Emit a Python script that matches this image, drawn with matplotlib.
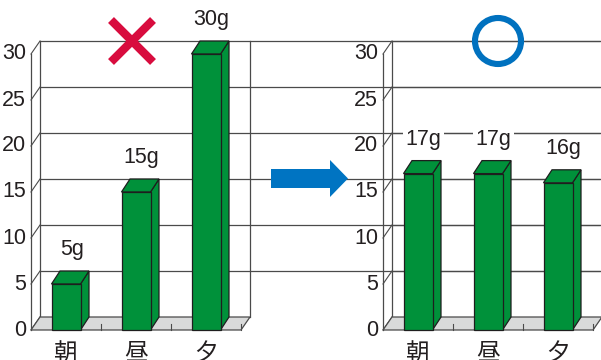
import matplotlib
matplotlib.use("Agg")
import matplotlib.pyplot as plt
from matplotlib.patches import Polygon, Circle

# ---- data ----
categories = ["朝", "昼", "夕"]
before_values = [5, 15, 30]
after_values = [17, 17, 16]
before_labels = ["5g", "15g", "30g"]
after_labels = ["17g", "17g", "16g"]
y_ticks = [0, 5, 10, 15, 20, 25, 30]

W, H = 601, 360
fig = plt.figure(figsize=(W / 100, H / 100), dpi=100)

NUM_FONT = ["Liberation Sans Narrow", "Liberation Sans", "DejaVu Sans"]
CJK_FONT = ["Noto Sans CJK JP", "DejaVu Sans"]
GREEN = "#00913a"
EDGE = "#1e1e1e"
GRID = "#4a4a4a"
FLOOR = "#d9dada"
TXT = "#231f20"

PX_X = 70.0   # pixels per category unit
PX_Y = 9.2    # pixels per value unit
DDX, DDY = 9 / PX_X, 13 / PX_Y      # wall depth
BDX, BDY = 8.5 / PX_X, 13 / PX_Y    # bar depth
BW = 29 / PX_X


def draw_chart(left_px, values, labels):
    ax = fig.add_axes([left_px / W, 30 / H, 210 / W, 276 / H])
    ax.set_xlim(-0.5, 2.5)
    ax.set_ylim(0, 30)
    ax.axis("off")
    x0, x1 = -0.5, 2.5
    # back wall gridlines and left wall diagonals
    for v in y_ticks:
        if v > 0:
            ax.plot([x0 + DDX, x1 + DDX + 5], [v + DDY, v + DDY], color=GRID, lw=0.9,
                    clip_on=False, zorder=1, solid_capstyle="butt")
        ax.plot([x0, x0 + DDX], [v, v + DDY], color=GRID, lw=0.8, clip_on=False, zorder=1)
        ax.annotate(str(v), xy=(x0, v), xytext=(-3.5, 0), textcoords="offset points",
                    ha="right", va="center", fontsize=15.5, family=NUM_FONT,
                    color=TXT, annotation_clip=False)
    # vertical edges
    ax.plot([x0, x0], [0, 30], color=GRID, lw=0.9, clip_on=False, zorder=1)
    ax.plot([x0 + DDX, x0 + DDX], [DDY, 30 + DDY], color=GRID, lw=0.9, clip_on=False, zorder=1)
    ax.plot([x1 + DDX, x1 + DDX], [DDY, 30 + DDY], color=GRID, lw=0.9, clip_on=False, zorder=1)
    # floor
    floor = Polygon([(x0, 0), (x1, 0), (x1 + DDX, DDY), (x0 + DDX, DDY)], closed=True,
                    facecolor=FLOOR, edgecolor=GRID, lw=0.9, clip_on=False, zorder=2)
    ax.add_patch(floor)
    for xt in [0.5, 1.5, 2.5]:
        ax.plot([xt, xt], [0, DDY * 0.5], color=GRID, lw=0.8, clip_on=False, zorder=2)
    # bars
    xs = list(range(len(values)))
    ax.bar(xs, values, width=BW, color=GREEN, edgecolor=EDGE, lw=0.9, zorder=4,
           clip_on=False)
    for x, v in zip(xs, values):
        r = x + BW / 2
        l = x - BW / 2
        side = Polygon([(r, 0), (r + BDX, BDY), (r + BDX, v + BDY), (r, v)], closed=True,
                       facecolor=GREEN, edgecolor=EDGE, lw=0.9, zorder=3, clip_on=False)
        top = Polygon([(l, v), (r, v), (r + BDX, v + BDY), (l + BDX, v + BDY)], closed=True,
                      facecolor=GREEN, edgecolor=EDGE, lw=0.9, zorder=3, clip_on=False)
        ax.add_patch(side)
        ax.add_patch(top)
    # value labels
    for x, v, lab in zip(xs, values, labels):
        bbox = dict(boxstyle="square,pad=0.12", fc="white", ec="none")
        ax.annotate(lab, xy=(x + BDX / 2 + 0.02, v + BDY), xytext=(0, 11.5),
                    textcoords="offset points", ha="center", va="baseline",
                    fontsize=15.5, family=NUM_FONT, color=TXT, bbox=bbox,
                    annotation_clip=False, zorder=5)
    # category labels
    for x, c in zip(xs, categories):
        ax.annotate(c, xy=(x, 0), xytext=(0, -17), textcoords="offset points",
                    ha="center", va="center", fontsize=17, family=CJK_FONT,
                    color=TXT, annotation_clip=False)
    return ax


draw_chart(31, before_values, before_labels)
draw_chart(383, after_values, after_labels)

# overlay for decorations (pixel coordinates)
ov = fig.add_axes([0, 0, 1, 1], zorder=10)
ov.set_xlim(0, W)
ov.set_ylim(H, 0)
ov.axis("off")
ov.patch.set_alpha(0)

# red cross
RED = "#d80c3e"
ov.plot([111, 153], [20, 62], color=RED, lw=6, solid_capstyle="butt")
ov.plot([111, 153], [62, 20], color=RED, lw=6, solid_capstyle="butt")

# blue circle
BLUE = "#0071bf"
ov.add_patch(Circle((498, 41), 23, fill=False, edgecolor=BLUE, lw=4.4))

# arrow
arrow = Polygon([(271, 169), (330, 169), (330, 160), (348, 178.5), (330, 197),
                 (330, 188), (271, 188)], closed=True, facecolor="#0074c2",
                edgecolor="none")
ov.add_patch(arrow)

fig.savefig("out.png", dpi=100)
